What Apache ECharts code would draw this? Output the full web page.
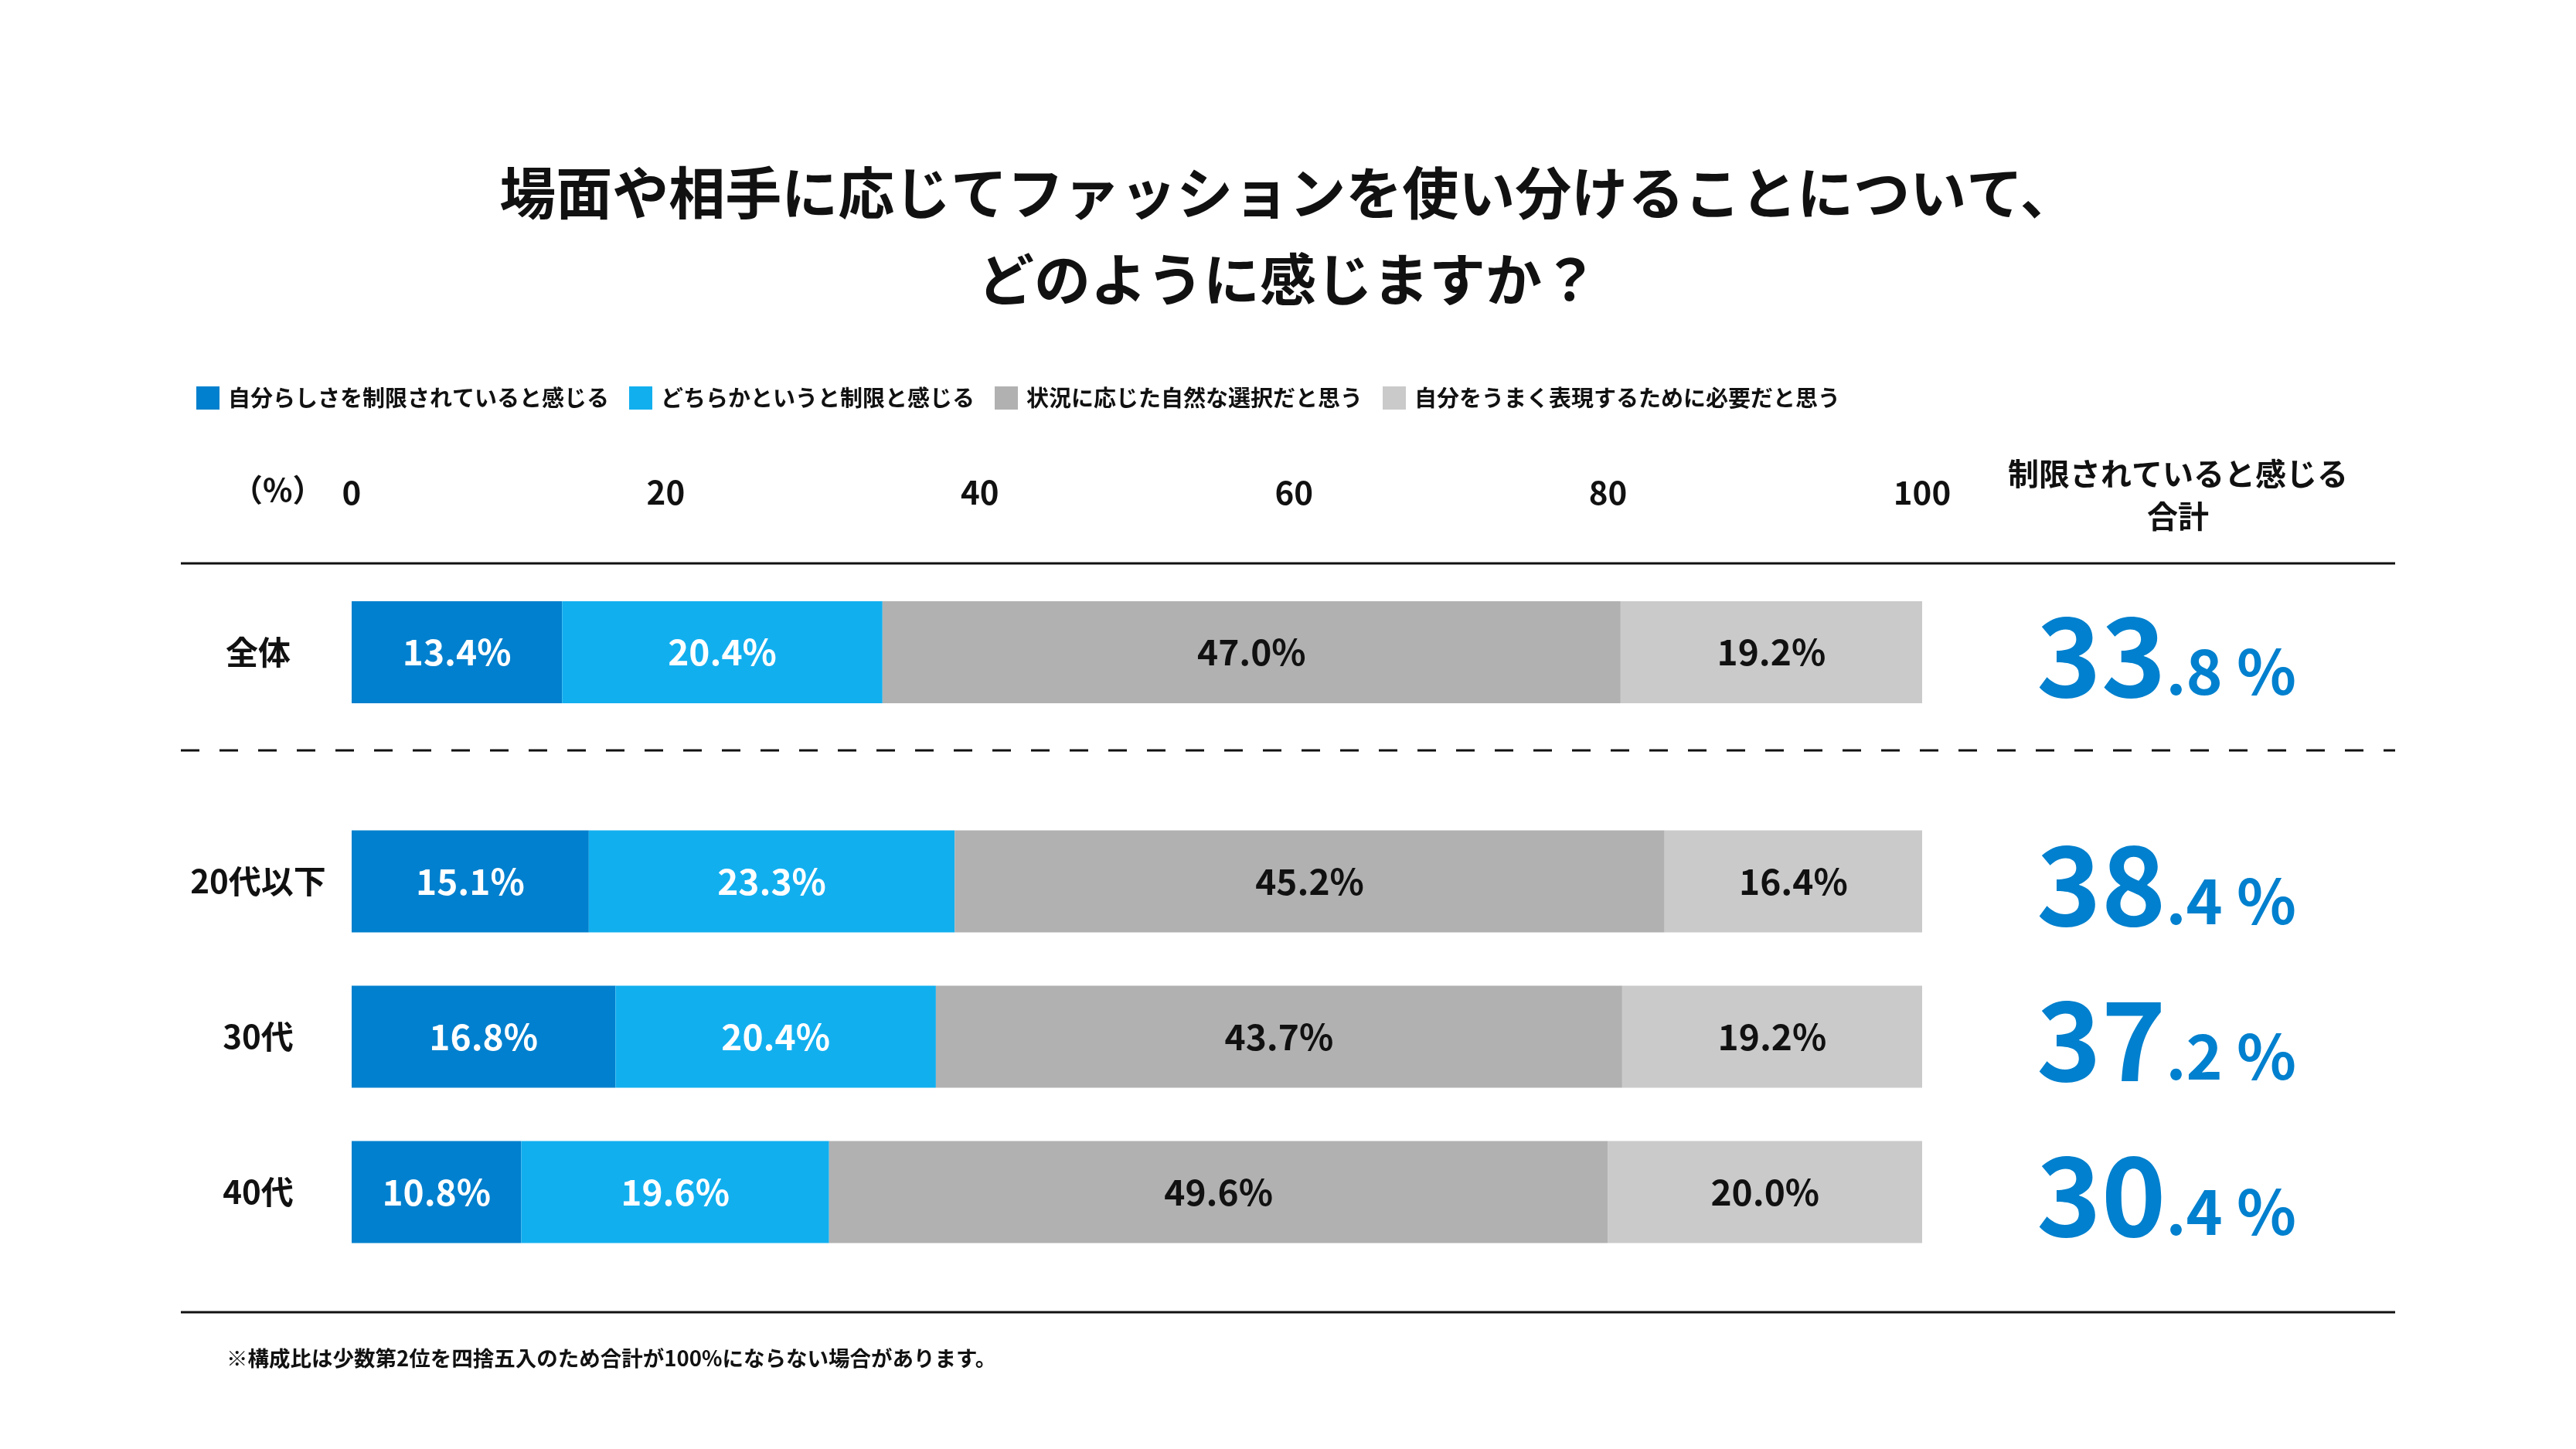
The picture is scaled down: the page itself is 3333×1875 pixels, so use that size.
<!DOCTYPE html>
<html>
<head>
<meta charset="utf-8">
<script src="https://cdn.jsdelivr.net/npm/echarts@6/dist/echarts.min.js"></script>
<style>
    html, body { margin: 0; padding: 0; background: #fff; }
    #chart { width: 3333px; height: 1875px; }
</style>
</head>
<body>
<div id="chart"></div>
<script>
    // 凡例（回答）
    var answers = ['自分らしさを制限されていると感じる', 'どちらかというと制限と感じる', '状況に応じた自然な選択だと思う', '自分をうまく表現するために必要だと思う'];
    // 全体
    var totalCats = ['全体'];
    var totalValues = [[13.4], [20.4], [47.0], [19.2]];
    var totalSum = [33.8];
    // 年代別
    var ageCats = ['20代以下', '30代', '40代'];
    var ageValues = [
        [15.1, 16.8, 10.8],
        [23.3, 20.4, 19.6],
        [45.2, 43.7, 49.6],
        [16.4, 19.2, 20.0]
    ];
    var ageSum = [38.4, 37.2, 30.4];
    var xTicks = [0, 20, 40, 60, 80, 100];

    var colors = ['#0080CE', '#12AFEF', '#B1B1B1', '#CACACA'];
    var labelColors = ['#fff', '#fff', '#111', '#111'];
    var FONT = '"Noto Sans CJK JP", "Noto Sans", sans-serif';

    var chart = echarts.init(document.getElementById('chart'));

    function barSeries(values, gridIdx) {
        return values.map(function (vals, i) {
            return {
                name: answers[i],
                type: 'bar',
                stack: 'g' + gridIdx,
                xAxisIndex: gridIdx,
                yAxisIndex: gridIdx,
                barWidth: 132,
                itemStyle: { color: colors[i] },
                label: {
                    show: true,
                    position: 'inside',
                    color: labelColors[i],
                    fontFamily: FONT,
                    fontWeight: 'bold',
                    fontSize: 46,
                    formatter: function (p) { return p.value.toFixed(1) + '%'; }
                },
                emphasis: { disabled: true },
                data: vals
            };
        });
    }

    function sumSeries(sums, gridIdx) {
        return {
            type: 'scatter',
            xAxisIndex: gridIdx,
            yAxisIndex: gridIdx,
            symbolSize: 0,
            silent: true,
            itemStyle: { opacity: 1, color: '#0080CE' },
            label: {
                show: true,
                position: 'right',
                distance: 148,
                opacity: 1,
                formatter: function (p) {
                    var s = sums[p.dataIndex].toFixed(1).split('.');
                    return '{big|' + s[0] + '}{small|.' + s[1] + ' %}';
                },
                rich: {
                    big: { fontFamily: FONT, fontWeight: 'bold', fontSize: 142, color: '#0080CE', verticalAlign: 'bottom', lineHeight: 150 },
                    small: { fontFamily: FONT, fontWeight: 'bold', fontSize: 80, color: '#0080CE', verticalAlign: 'bottom', lineHeight: 90, padding: [0, 0, 10, 0] }
                }
            },
            data: sums.map(function () { return 100; })
        };
    }

    var axisCommon = {
        type: 'value', min: 0, max: 100, interval: 20,
        axisLine: { show: false }, axisTick: { show: false }, splitLine: { show: false }
    };
    var catCommon = {
        type: 'category', inverse: true,
        axisLine: { show: false }, axisTick: { show: false },
        axisLabel: { fontFamily: FONT, fontWeight: 'bold', fontSize: 42, color: '#111', align: 'center', margin: 121 }
    };

    chart.setOption({
        animation: false,
        backgroundColor: '#fff',
        title: {
            text: '場面や相手に応じてファッションを使い分けることについて、\nどのように感じますか？',
            left: 'center',
            top: 193,
            padding: 0,
            textStyle: { fontFamily: FONT, fontWeight: 'bold', fontSize: 73, lineHeight: 112, color: '#111', align: 'center' }
        },
        legend: {
            data: answers,
            left: 249,
            top: 495,
            icon: 'rect',
            itemWidth: 30,
            itemHeight: 30,
            itemGap: 26,
            selectedMode: false,
            textStyle: { fontFamily: FONT, fontWeight: 'bold', fontSize: 29, color: '#111', padding: [0, 0, 0, 6] }
        },
        grid: [
            { left: 455, right: 846, top: 778, height: 132 },
            { left: 455, right: 846, top: 1040, height: 603 }
        ],
        xAxis: [
            Object.assign({ gridIndex: 0, position: 'top',
                axisLabel: { fontFamily: FONT, fontWeight: 'bold', fontSize: 42, color: '#111', margin: 120,
                    formatter: function (v) { return xTicks.indexOf(v) >= 0 ? String(v) : ''; } } }, axisCommon),
            Object.assign({ gridIndex: 1, axisLabel: { show: false } }, axisCommon)
        ],
        yAxis: [
            Object.assign({ gridIndex: 0, data: totalCats }, catCommon),
            Object.assign({ gridIndex: 1, data: ageCats }, catCommon)
        ],
        series: barSeries(totalValues, 0)
            .concat(barSeries(ageValues, 1))
            .concat([sumSeries(totalSum, 0), sumSeries(ageSum, 1)]),
        graphic: [
            { type: 'text', left: 300, top: 614, style: { text: '（%）', fontFamily: FONT, fontWeight: 'bold', fontSize: 40, fill: '#111' } },
            { type: 'text', x: 2818, y: 640, style: { text: '制限されていると感じる\n合計', fontFamily: FONT, fontWeight: 'bold', fontSize: 40, lineHeight: 55, fill: '#111', align: 'center', verticalAlign: 'middle' } },
            { type: 'line', shape: { x1: 234, y1: 729, x2: 3099, y2: 729 }, style: { stroke: '#111', lineWidth: 3 } },
            { type: 'line', shape: { x1: 234, y1: 971, x2: 3099, y2: 971 }, style: { stroke: '#111', lineWidth: 3, lineDash: [24, 26] } },
            { type: 'line', shape: { x1: 234, y1: 1698, x2: 3099, y2: 1698 }, style: { stroke: '#111', lineWidth: 3 } },
            { type: 'text', left: 293, top: 1744, style: { text: '※構成比は少数第2位を四捨五入のため合計が100%にならない場合があります。', fontFamily: FONT, fontWeight: 'bold', fontSize: 27.5, fill: '#111' } }
        ]
    });
</script>
</body>
</html>
